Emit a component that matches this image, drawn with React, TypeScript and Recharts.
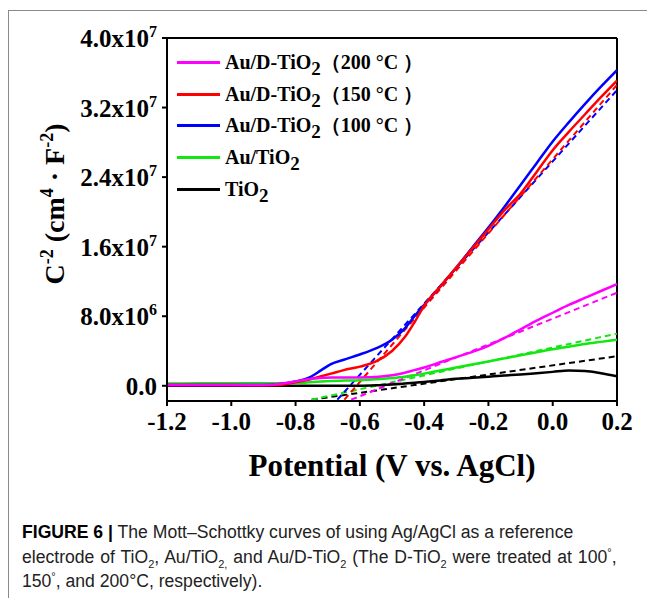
import React from "react";
import { LineChart, Line, XAxis, YAxis, Label, ReferenceLine } from "recharts";

// potential (V vs. AgCl) sampled along the measured curves
const potential = [
	-1.2, -1.1, -1.0, -0.9, -0.85, -0.8, -0.76, -0.72, -0.69, -0.65, -0.6, -0.55, -0.5, -0.46,
	-0.43, -0.4, -0.35, -0.3, -0.25, -0.2, -0.15, -0.1, -0.05, 0.0, 0.05, 0.1, 0.15, 0.2,
];

// C^-2 values, in units of 1e6 cm^4 F^-2
const au200 = [
	0.1, 0.1, 0.1, 0.1, 0.2, 0.5, 0.75, 0.9, 0.95, 0.95, 0.95, 1.0, 1.2, 1.5, 1.8, 2.1, 2.7, 3.3,
	3.9, 4.6, 5.5, 6.5, 7.5, 8.4, 9.3, 10.1, 10.9, 11.7,
];
const au150 = [
	0.1, 0.1, 0.1, 0.05, 0.1, 0.4, 0.7, 1.1, 1.4, 1.8, 2.2, 2.8, 4.0, 5.6, 7.3, 9.2, 11.4, 13.6,
	15.8, 18.0, 20.2, 22.1, 24.6, 27.1, 29.2, 31.2, 33.2, 35.1,
];
const au100 = [
	0.1, 0.1, 0.1, 0.1, 0.2, 0.5, 0.9, 1.8, 2.5, 3.0, 3.6, 4.3, 5.3, 6.6, 8.0, 9.3, 11.4, 13.6,
	15.9, 18.2, 20.6, 23.1, 25.6, 28.1, 30.3, 32.4, 34.4, 36.3,
];
const auTiO2 = [
	0.25, 0.28, 0.3, 0.28, 0.28, 0.3, 0.4, 0.5, 0.55, 0.6, 0.65, 0.75, 0.9, 1.05, 1.2, 1.4, 1.75,
	2.1, 2.45, 2.8, 3.15, 3.5, 3.85, 4.2, 4.5, 4.8, 5.05, 5.3,
];
const tiO2 = [
	0, 0, 0, 0, 0, 0, 0, 0, 0, 0, 0, 0.05, 0.15, 0.25, 0.35, 0.45, 0.62, 0.8, 0.92, 1.05, 1.18,
	1.3, 1.45, 1.6, 1.75, 1.7, 1.45, 1.1,
];

// linear fits (dashed): start and end of each line
const fitStartV = [-0.627, -0.648, -0.67, -0.75, -0.75];
const fitStartC = [-1.6, -1.6, -1.6, -1.6, -1.6];
const fitEndV = [0.2, 0.2, 0.2, 0.2, 0.2];
const fitEndC = [10.7, 34.6, 34.0, 6.0, 3.4];

const seriesNames = [
	"Au/D-TiO2（200 °C ）",
	"Au/D-TiO2（150 °C ）",
	"Au/D-TiO2（100 °C ）",
	"Au/TiO2",
	"TiO2",
];
const seriesColors = ["#ff00ff", "#ff0000", "#0000ff", "#11e811", "#000000"];
const seriesValues = [au200, au150, au100, auTiO2, tiO2];

const xTicks = [-1.2, -1.0, -0.8, -0.6, -0.4, -0.2, 0.0, 0.2];
const xTickLabels = ["-1.2", "-1.0", "-0.8", "-0.6", "-0.4", "-0.2", "0.0", "0.2"];
const yTicks = [0, 8, 16, 24, 32, 40];
const yTickMantissas = ["0.0", "8.0", "1.6", "2.4", "3.2", "4.0"];
const yTickExps = ["", "6", "7", "7", "7", "7"];

const serif = "'Liberation Serif', 'Times New Roman', serif";
const sans = "'Liberation Sans', Arial, sans-serif";

const curves = seriesValues.map((vals) =>
	potential.map((v, i) => ({ v, c: vals[i] }))
);
const fits = fitStartV.map((v, i) => [
	{ v, c: fitStartC[i] },
	{ v: fitEndV[i], c: fitEndC[i] },
]);

// draw back to front: TiO2 first, 200 °C last
const drawOrder = [4, 3, 2, 1, 0];

const axisStyle = { stroke: "#000", strokeWidth: 2 };

const XTick = (props: any) => {
	const { x, y, payload } = props;
	const i = xTicks.indexOf(payload.value);
	return (
		<text x={x} y={y + 22} textAnchor="middle" fontFamily={serif} fontWeight="bold" fontSize={25} fill="#000">
			{xTickLabels[i]}
		</text>
	);
};

const YTick = (props: any) => {
	const { x, y, payload } = props;
	const i = yTicks.indexOf(payload.value);
	const exp = yTickExps[i];
	return (
		<text x={x} y={y + 9} textAnchor="end" fontFamily={serif} fontWeight="bold" fontSize={25} fill="#000">
			<tspan>{yTickMantissas[i]}</tspan>
			{exp ? <tspan>x10</tspan> : null}
			{exp ? (
				<tspan dy={-10} fontSize={16}>
					{exp}
				</tspan>
			) : null}
		</text>
	);
};

const renderName = (name: string) => {
	const k = name.indexOf("TiO2");
	const head = name.slice(0, k + 3);
	const tail = name.slice(k + 4);
	return (
		<>
			{head}
			<span style={{ fontSize: 19, position: "relative", top: 6 }}>2</span>
			{tail}
		</>
	);
};

const LegendBox = () => (
	<div style={{ position: "absolute", left: 169, top: 39 }}>
		{seriesNames.map((name, i) => (
			<div key={name} style={{ display: "flex", alignItems: "center", height: 31.6 }}>
				<div style={{ width: 43, height: 3, background: seriesColors[i], marginRight: 5 }} />
				<span style={{ fontFamily: serif, fontWeight: "bold", fontSize: 20, color: "#000", whiteSpace: "nowrap" }}>
					{renderName(name)}
				</span>
			</div>
		))}
	</div>
);

const YTitle = () => {
	const cy = 196;
	const cx = 56;
	return (
		<text
			x={cx}
			y={cy}
			transform={`rotate(-90, ${cx}, ${cy})`}
			textAnchor="middle"
			fontFamily={serif}
			fontWeight="bold"
			fontSize={28}
			fill="#000"
		>
			<tspan>C</tspan>
			<tspan dy={-11} fontSize={18}>-2</tspan>
			<tspan dy={11}> (cm</tspan>
			<tspan dy={-11} fontSize={18}>4</tspan>
			<tspan dy={11}> · F</tspan>
			<tspan dy={-11} fontSize={18}>-2</tspan>
			<tspan dy={11}>)</tspan>
		</text>
	);
};

const XTitle = (props: any) => {
	const { viewBox } = props;
	return (
		<text
			x={viewBox.x + viewBox.width / 2}
			y={468}
			textAnchor="middle"
			fontFamily={serif}
			fontWeight="bold"
			fontSize={31}
			fill="#000"
		>
			Potential (V vs. AgCl)
		</text>
	);
};

const subStyle = { fontSize: 11, lineHeight: 0 };

export default function App() {
	return (
		<div style={{ position: "relative", width: 639, height: 590 }}>
			<div
				style={{
					position: "absolute",
					left: 0,
					top: 2,
					width: 639,
					height: 588,
					borderLeft: "1px solid #8a8a8a",
					borderTop: "1px solid #8a8a8a",
					boxSizing: "border-box",
				}}
			/>
			<div style={{ position: "absolute", left: 0, top: 0 }}>
				<LineChart width={639} height={500} margin={{ top: 30, right: 30, left: 0, bottom: 27 }}>
					<XAxis
						type="number"
						dataKey="v"
						domain={[-1.2, 0.2]}
						ticks={xTicks}
						allowDataOverflow
						height={80}
						axisLine={axisStyle}
						tickLine={axisStyle}
						tickSize={5}
						tick={<XTick />}
						interval={0}
					>
						<Label content={<XTitle />} />
					</XAxis>
					<YAxis
						type="number"
						domain={[-1.75, 40]}
						ticks={yTicks}
						allowDataOverflow
						width={159}
						axisLine={axisStyle}
						tickLine={axisStyle}
						tickSize={5}
						tickMargin={5}
						tick={<YTick />}
						interval={0}
					>
						<Label content={<YTitle />} />
					</YAxis>
					<ReferenceLine y={40} stroke="#000" strokeWidth={2} />
					<ReferenceLine x={0.2} stroke="#000" strokeWidth={2} />
					{drawOrder.map((i) => (
						<Line
							key={"fit" + i}
							data={fits[i]}
							dataKey="c"
							type="linear"
							stroke={seriesColors[i]}
							strokeWidth={2}
							strokeDasharray="6 4"
							dot={false}
							legendType="none"
							isAnimationActive={false}
						/>
					))}
					{drawOrder.map((i) => (
						<Line
							key={"curve" + i}
							data={curves[i]}
							dataKey="c"
							name={seriesNames[i]}
							type="monotone"
							stroke={seriesColors[i]}
							strokeWidth={2.5}
							dot={false}
							isAnimationActive={false}
						/>
					))}
				</LineChart>
			</div>
			<LegendBox />
			<div
				style={{
					position: "absolute",
					left: 14,
					top: 512,
					fontFamily: sans,
					fontSize: 17.6,
					lineHeight: "24.5px",
					color: "#222",
					whiteSpace: "nowrap",
				}}
			>
				<b style={{ color: "#000" }}>FIGURE 6 |</b> The Mott–Schottky curves of using Ag/AgCl as a reference
				<br />
				<span style={{ wordSpacing: 1 }}>
					electrode of TiO<sub style={subStyle}>2</sub>, Au/TiO<sub style={subStyle}>2,</sub> and Au/D-TiO
					<sub style={subStyle}>2</sub> (The D-TiO<sub style={subStyle}>2</sub> were treated at 100
					<sup style={subStyle}>°</sup>,
				</span>
				<br />
				150<sup style={subStyle}>°</sup>, and 200°C, respectively).
			</div>
		</div>
	);
}
